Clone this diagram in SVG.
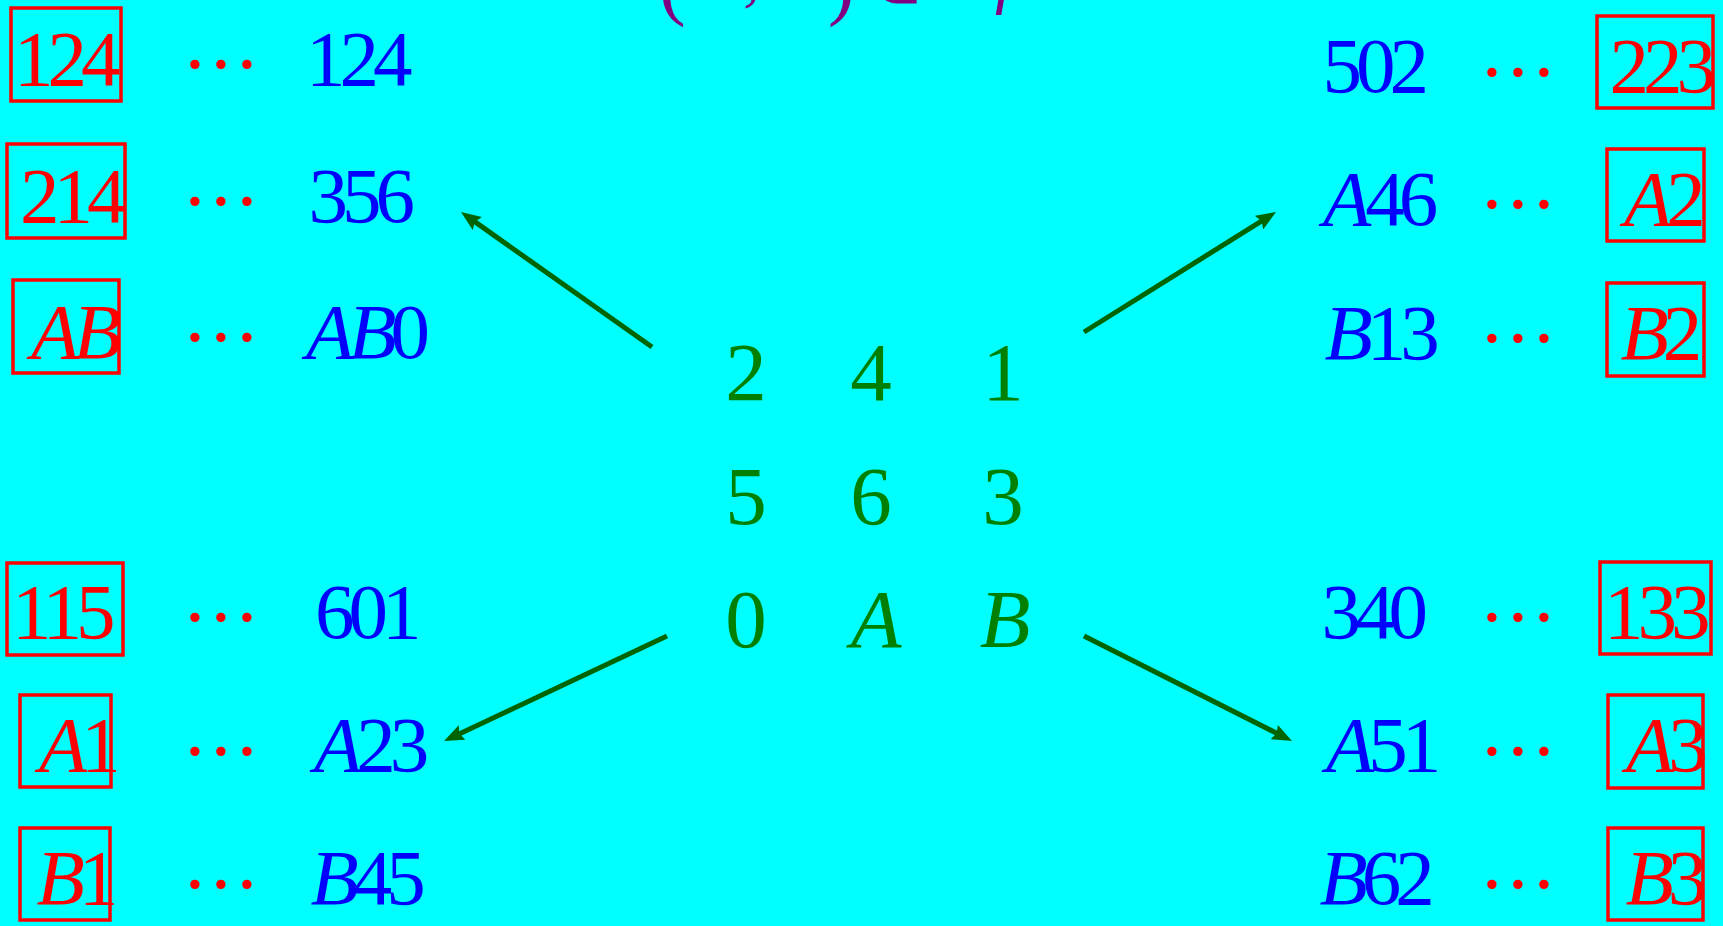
<svg xmlns="http://www.w3.org/2000/svg" width="1723" height="926" viewBox="0 0 1723 926">
<style>
.t{font-family:"Liberation Serif","Times New Roman",serif;font-size:79px;letter-spacing:-6px}
.r{fill:#ff0000}
.b{fill:#0000ff}
.i{font-style:italic}
.d{font-family:"Liberation Serif","Times New Roman",serif;font-size:79px;letter-spacing:6.3px;fill:#ff0000}
.box{fill:none;stroke:#ff0000;stroke-width:3.5}
.g{font-family:"Liberation Serif","Times New Roman",serif;font-size:83px;fill:#008000;text-anchor:middle}
.p{font-family:"Liberation Serif","Times New Roman",serif;fill:#800080}
.arr{stroke:#006400;stroke-width:5;fill:none;marker-end:url(#ah)}
</style>
<defs>
<marker id="ah" viewBox="0 0 20 16" refX="8" refY="8" markerWidth="20" markerHeight="16" markerUnits="userSpaceOnUse" orient="auto">
<path d="M0,0 L20,8 L0,16 L3,8 Z" fill="#006400"/>
</marker>
</defs>
<rect x="0" y="0" width="1723" height="926" fill="#00ffff"/>

<g id="title">
<text class="p" font-size="80" x="659" y="10">(</text>
<text class="p" font-size="68" x="743" y="-2">,</text>
<text class="p" font-size="80" x="828" y="10">)</text>
<text class="p" font-size="58" x="896" y="3" text-anchor="middle">∈</text>
<text class="p i" font-size="68" x="995" y="1">f</text>
</g>

<g id="center">
<text class="g" x="746" y="400">2</text>
<text class="g" x="871" y="400">4</text>
<text class="g" x="1003" y="400">1</text>
<text class="g" x="746" y="524">5</text>
<text class="g" x="871" y="524">6</text>
<text class="g" x="1003" y="524">3</text>
<text class="g" x="746" y="647">0</text>
<text class="g i" x="876" y="647">A</text>
<text class="g i" x="1005" y="647">B</text>
</g>

<g id="connectors">
<line class="arr" x1="652" y1="347" x2="470.8" y2="218.9"/>
<line class="arr" x1="1084" y1="332" x2="1265.8" y2="218.4"/>
<line class="arr" x1="667" y1="636" x2="454.9" y2="735.9"/>
<line class="arr" x1="1084" y1="636" x2="1281.3" y2="735.6"/>
</g>

<g id="left-1">
<rect class="box" x="11" y="8" width="110" height="93"/>
<text class="t r" x="14" y="85">124</text>
<text class="d" x="185" y="67.5">...</text>
<text class="t b" x="306" y="85">124</text>
</g>
<g id="left-2">
<rect class="box" x="7" y="144" width="118" height="94"/>
<text class="t r" x="20" y="222">214</text>
<text class="d" x="185" y="204.5">...</text>
<text class="t b" x="308.6" y="222">356</text>
</g>
<g id="left-3">
<rect class="box" x="13" y="280" width="106" height="93"/>
<text class="t r i" x="31" y="358">AB</text>
<text class="d" x="185" y="340.5">...</text>
<text class="t b" x="306" y="358"><tspan class="i">AB</tspan>0</text>
</g>
<g id="left-4">
<rect class="box" x="7" y="563" width="116" height="92"/>
<text class="t r" x="12" y="638">115</text>
<text class="d" x="185" y="620.5">...</text>
<text class="t b" x="315" y="638">601</text>
</g>
<g id="left-5">
<rect class="box" x="20" y="695" width="91" height="92"/>
<text class="t r" x="39" y="771"><tspan class="i">A</tspan>1</text>
<text class="d" x="185" y="754.5">...</text>
<text class="t b" x="314" y="771"><tspan class="i">A</tspan>23</text>
</g>
<g id="left-6">
<rect class="box" x="20" y="828" width="90" height="92"/>
<text class="t r" x="36.6" y="904"><tspan class="i">B</tspan>1</text>
<text class="d" x="185" y="887.5">...</text>
<text class="t b" x="310.6" y="904"><tspan class="i">B</tspan>45</text>
</g>

<g id="right-1">
<text class="t b" x="1322.5" y="92">502</text>
<text class="d" x="1482" y="75.5">...</text>
<rect class="box" x="1597" y="16" width="116" height="92"/>
<text class="t r" x="1609.6" y="92">223</text>
</g>
<g id="right-2">
<text class="t b" x="1323" y="225"><tspan class="i">A</tspan>46</text>
<text class="d" x="1482" y="207.5">...</text>
<rect class="box" x="1607" y="149" width="97" height="92"/>
<text class="t r" x="1624" y="225"><tspan class="i">A</tspan>2</text>
</g>
<g id="right-3">
<text class="t b" x="1324.6" y="359"><tspan class="i">B</tspan>13</text>
<text class="d" x="1482" y="341.5">...</text>
<rect class="box" x="1607" y="283" width="97" height="93"/>
<text class="t r" x="1620.6" y="359"><tspan class="i">B</tspan>2</text>
</g>
<g id="right-4">
<text class="t b" x="1321.6" y="638">340</text>
<text class="d" x="1482" y="620.5">...</text>
<rect class="box" x="1600" y="562" width="111" height="92"/>
<text class="t r" x="1604" y="638">133</text>
</g>
<g id="right-5">
<text class="t b" x="1326" y="771"><tspan class="i">A</tspan>51</text>
<text class="d" x="1482" y="754.5">...</text>
<rect class="box" x="1608" y="695" width="95" height="93"/>
<text class="t r" x="1626" y="771"><tspan class="i">A</tspan>3</text>
</g>
<g id="right-6">
<text class="t b" x="1319.6" y="904"><tspan class="i">B</tspan>62</text>
<text class="d" x="1482" y="887.5">...</text>
<rect class="box" x="1608" y="828" width="95" height="92"/>
<text class="t r" x="1625.6" y="904"><tspan class="i">B</tspan>3</text>
</g>
</svg>
